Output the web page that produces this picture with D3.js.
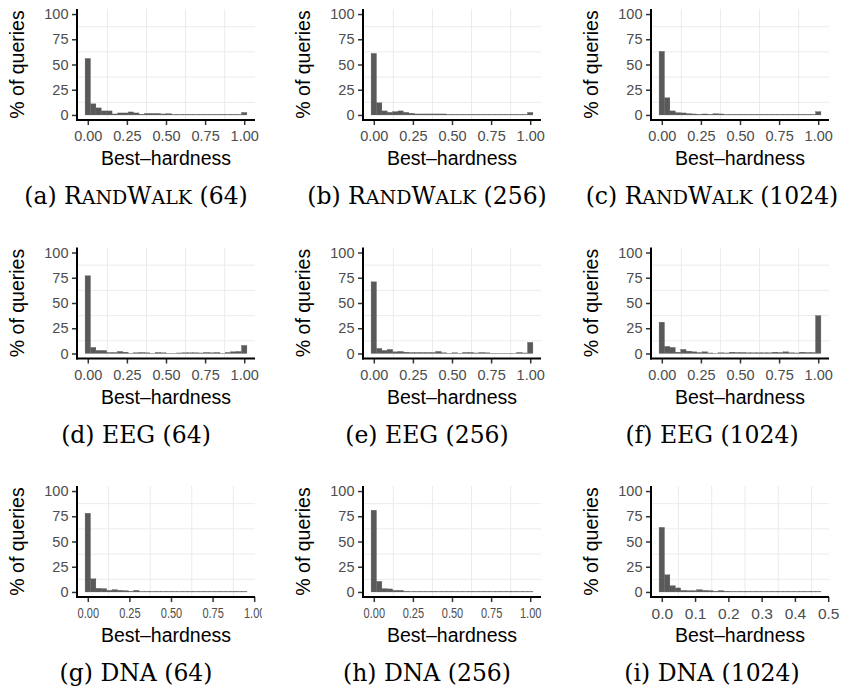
<!DOCTYPE html>
<html>
<head>
<meta charset="utf-8">
<script src="https://cdnjs.cloudflare.com/ajax/libs/d3/7.8.5/d3.min.js"></script>
<style>
body { margin: 0; background: #fff; }
</style>
</head>
<body>
<div id="chart"></div>
<script>
// % of queries in each of the 30 histogram bins
const randWalk64 = [56, 11, 7, 4, 4, 1, 2, 2, 3, 2, 0.8, 1.5, 1.5, 1.5, 1, 1.3, 0.5, 0.5, 0.5, 0.5, 0.5, 0.5, 0.5, 0.5, 0.5, 0.5, 0.5, 0.5, 0.5, 2.5];
const randWalk256 = [61, 12, 4, 2.6, 3.3, 4, 2.6, 1.7, 1, 1, 1, 1, 1, 1, 0.5, 0.5, 0.5, 0.5, 0.5, 0.5, 0.5, 0.5, 0.5, 0.5, 0.5, 0.5, 0.5, 0.5, 0.5, 2.5];
const randWalk1024 = [63, 17, 4, 2.3, 2, 1.3, 1, 0.7, 1, 0.7, 1.3, 1, 0.5, 0.5, 0.5, 0.5, 0.5, 0.5, 0.5, 0.5, 0.5, 0.5, 0.5, 0.5, 0.5, 0.5, 0.5, 0.5, 0.5, 3.3];
const eeg64 = [77, 6, 3, 3, 1, 1, 2, 1.3, 0.3, 0.7, 1, 0.7, 0.3, 1, 0.7, 0.3, 0.3, 0.5, 0.7, 0.7, 0.7, 0.5, 1, 0.7, 1, 0.3, 1, 1.7, 2, 8];
const eeg256 = [71, 5, 3, 4, 1.6, 2, 1.3, 1, 1, 1, 1, 1, 2, 0.7, 0.3, 0.7, 0.3, 1, 1, 0.5, 1, 0.7, 0.3, 0.3, 0.3, 0.3, 0.3, 1, 0.5, 11];
const eeg1024 = [31, 7, 6, 1.3, 4, 2.3, 1.6, 1, 1.6, 0.5, 0.3, 0.7, 0.5, 1.3, 1, 1, 0.7, 0.7, 0.7, 0.7, 0.7, 1.3, 1, 1.6, 0.7, 0.5, 1.3, 1, 1, 37.5];
const dna64 = [78, 13, 3.6, 3.3, 1.6, 2.3, 1.6, 1.3, 0.7, 1.6, 0.4, 0.4, 0.4, 0.4, 0.4, 0.4, 0.4, 0.4, 0.4, 0.4, 0.4, 0.4, 0.4, 0.4, 0.4, 0.4, 0.4, 0.4, 0.4, 0.4];
const dna256 = [81, 10.5, 3.3, 3, 1.6, 1.6, 0.6, 0.4, 0.4, 0.4, 0.4, 0.4, 0.4, 0.4, 0.4, 0.4, 0.4, 0.4, 0.4, 0.4, 0.4, 0.4, 0.4, 0.4, 0.4, 0.4, 0.4, 0.4, 0.4, 0.4];
const dna1024 = [64, 17, 6.2, 4, 1.6, 1.3, 1.3, 2.3, 1.6, 1.3, 0.7, 1.3, 0.7, 0.4, 0.4, 0.4, 0.4, 0.4, 0.4, 0.4, 0.4, 0.4, 0.4, 0.4, 0.4, 0.4, 0.4, 0.4, 0.4, 0.4];

// largest best-hardness value in each panel (bins are centred from 0 to this)
const panelMax = [1, 1, 1, 1, 1, 1, 0.94, 1, 0.47];

const captionTags = ['(a)', '(b)', '(c)', '(d)', '(e)', '(f)', '(g)', '(h)', '(i)'];
const datasetNames = ['RandWalk', 'RandWalk', 'RandWalk', 'EEG', 'EEG', 'EEG', 'DNA', 'DNA', 'DNA'];
const seriesLengths = [64, 256, 1024, 64, 256, 1024, 64, 256, 1024];

const xTicksDefault = [0, 0.25, 0.5, 0.75, 1];
const xTicksShort = [0, 0.1, 0.2, 0.3, 0.4, 0.5];
const yTicks = [0, 25, 50, 75, 100];

const panels = [randWalk64, randWalk256, randWalk1024, eeg64, eeg256, eeg1024, dna64, dna256, dna1024];

const WIDTH = 841;
const HEIGHT = 688;
const COL_LEFT = [77, 363, 651];
const ROW_TOP = [9, 247.5, 486];
const PANEL_W = 178;
const PANEL_H = 111;
const CAPTION_X = [136, 427, 712];
const BAR_COLOR = '#595959';
const GRID_COLOR = '#ebebeb';
const SANS = '"Liberation Sans", Arial, sans-serif';

const svg = d3.select('#chart')
    .append('svg')
    .attr('width', WIDTH)
    .attr('height', HEIGHT)
    .style('background', '#fff');

const defs = svg.append('defs');

panels.forEach((values, p) => {
    const col = p % 3;
    const row = Math.floor(p / 3);
    const left = COL_LEFT[col];
    const top = ROW_TOP[row];
    const max = panelMax[p];
    const binW = max / (values.length - 1);
    const lo = -binW / 2;
    const hi = max + binW / 2;
    const pad = (hi - lo) * 0.05;
    const ticks = max < 0.6 ? xTicksShort : xTicksDefault;
    const condensed = row === 2 && max > 0.6;

    // clip for each subfigure; (g) has its last label cut off
    const clipId = 'clip' + p;
    defs.append('clipPath').attr('id', clipId)
        .append('rect')
        .attr('x', left - 77)
        .attr('y', top - 9)
        .attr('width', p === 6 ? 262 - (left - 77) : 286)
        .attr('height', 230);

    const g = svg.append('g').attr('clip-path', `url(#${clipId})`);

    const x = d3.scaleLinear()
        .domain([lo - pad, hi + pad])
        .range([left, left + PANEL_W]);
    const y = d3.scaleLinear()
        .domain([-5, 105])
        .range([top + PANEL_H, top]);

    // minor grid lines only
    const step = ticks[1] - ticks[0];
    const xMinor = d3.range(ticks.length + 1).map(i => ticks[0] - step / 2 + i * step)
        .filter(v => v > x.domain()[0] && v < x.domain()[1]);
    const yMinor = [12.5, 37.5, 62.5, 87.5];

    g.selectAll('.gx')
        .data(xMinor)
        .enter()
        .append('line')
        .attr('x1', d => x(d))
        .attr('x2', d => x(d))
        .attr('y1', top)
        .attr('y2', top + PANEL_H)
        .attr('stroke', GRID_COLOR)
        .attr('stroke-width', 1);

    g.selectAll('.gy')
        .data(yMinor)
        .enter()
        .append('line')
        .attr('x1', left)
        .attr('x2', left + PANEL_W)
        .attr('y1', d => y(d))
        .attr('y2', d => y(d))
        .attr('stroke', GRID_COLOR)
        .attr('stroke-width', 1);

    // bars
    g.selectAll('.bar')
        .data(values)
        .enter()
        .append('rect')
        .attr('x', (d, i) => x(i * binW - binW / 2))
        .attr('width', (d, i) => x(i * binW + binW / 2) - x(i * binW - binW / 2))
        .attr('y', d => y(d))
        .attr('height', d => y(0) - y(d))
        .attr('fill', BAR_COLOR)
        .attr('stroke', BAR_COLOR)
        .attr('stroke-width', 0.3);

    // axes
    const xAxis = g.append('g')
        .attr('transform', `translate(0,${top + PANEL_H})`)
        .call(d3.axisBottom(x)
            .tickValues(ticks)
            .tickSize(5)
            .tickPadding(6)
            .tickFormat(d3.format(max < 0.6 ? '.1f' : '.2f')));

    const yAxis = g.append('g')
        .attr('transform', `translate(${left},0)`)
        .call(d3.axisLeft(y)
            .tickValues(yTicks)
            .tickSize(5)
            .tickPadding(3.5));

    [xAxis, yAxis].forEach(ax => {
        ax.select('.domain').remove();
        ax.selectAll('.tick line').attr('stroke', '#333').attr('stroke-width', 1.5);
        ax.selectAll('.tick text')
            .attr('fill', '#4d4d4d')
            .style('font-family', SANS)
            .style('font-size', '14.5px');
    });
    if (condensed) {
        xAxis.selectAll('.tick text').attr('transform', 'scale(0.76,1)');
    }
    if (max < 0.6) {
        xAxis.selectAll('.tick text').style('font-size', '15.5px');
    }

    // axis lines
    g.append('line')
        .attr('x1', left).attr('x2', left)
        .attr('y1', top).attr('y2', top + PANEL_H + 1)
        .attr('stroke', '#000').attr('stroke-width', 2);
    g.append('line')
        .attr('x1', left - 1).attr('x2', left + PANEL_W)
        .attr('y1', top + PANEL_H).attr('y2', top + PANEL_H)
        .attr('stroke', '#000').attr('stroke-width', 2);

    // axis titles
    g.append('text')
        .attr('x', left + PANEL_W / 2)
        .attr('y', top + PANEL_H + 45)
        .attr('text-anchor', 'middle')
        .style('font-family', SANS)
        .style('font-size', '19.5px')
        .text('Best\u2013hardness');

    g.append('text')
        .attr('transform', `translate(${left - 53},${top + PANEL_H / 2}) rotate(-90)`)
        .attr('text-anchor', 'middle')
        .style('font-family', SANS)
        .style('font-size', '19.5px')
        .text('% of queries');

    // caption, with small caps for mixed-case names
    const cap = svg.append('text')
        .attr('x', CAPTION_X[col])
        .attr('y', top + 195)
        .attr('text-anchor', 'middle')
        .style('font-family', '"DejaVu Serif", "Liberation Serif", serif')
        .style('font-size', '23.5px')
        .attr('fill', '#000');
    cap.append('tspan').text(captionTags[p] + ' ');
    datasetNames[p].split('').forEach(ch => {
        const lower = ch !== ch.toUpperCase();
        cap.append('tspan')
            .style('font-size', lower ? '19px' : '23.5px')
            .text(ch.toUpperCase());
    });
    cap.append('tspan').text(` (${seriesLengths[p]})`);
});
</script>
</body>
</html>
